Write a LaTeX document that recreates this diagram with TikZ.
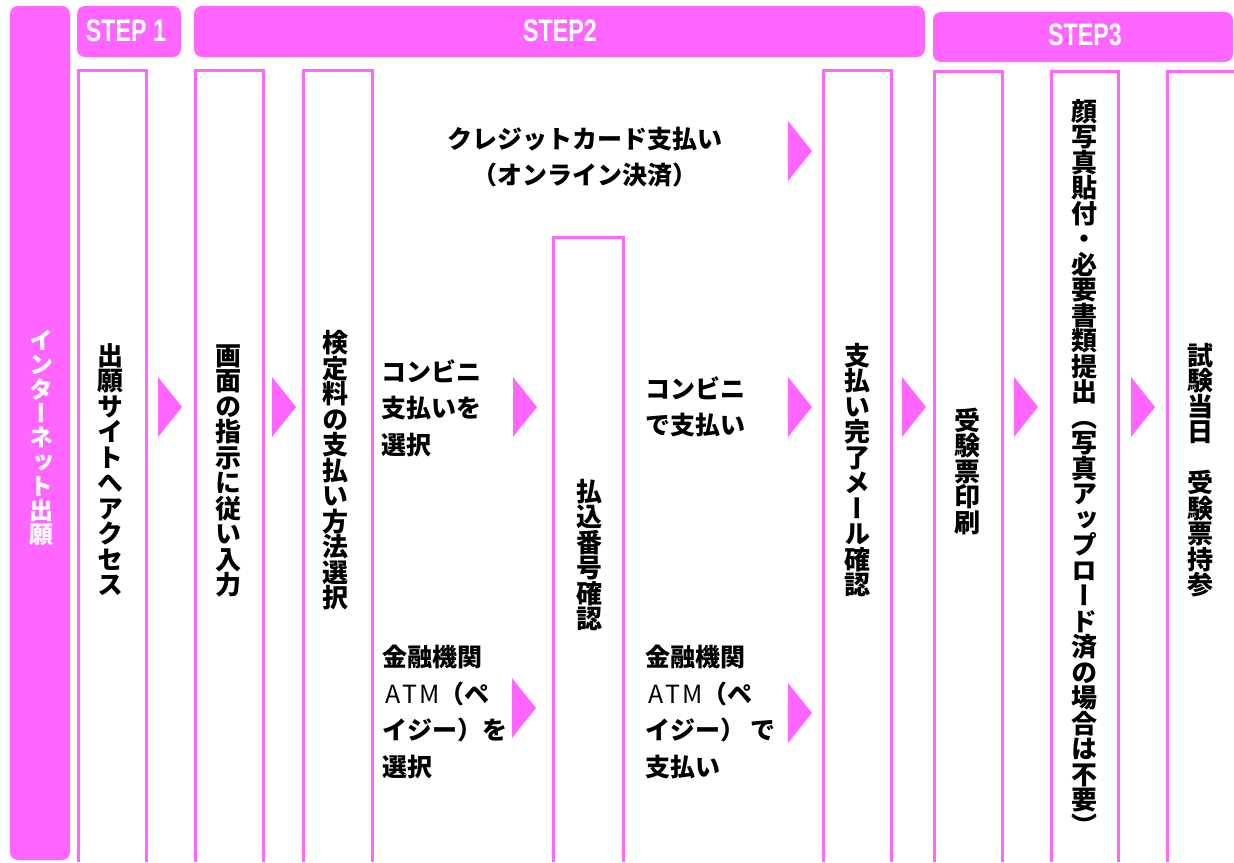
\documentclass[tikz,border=0pt]{standalone}
\usepackage{fontspec}
\usepackage{graphicx}
\newfontfamily\jp{Noto Sans CJK JP}
\newfontfamily\jpv{Noto Sans CJK JP}[RawFeature=+vert]
\newfontfamily\stepf{Liberation Sans}
\definecolor{pk}{RGB}{255,102,255}
\def\vtend{\vtend}
\def\vtaux#1{\ifx\vtend#1\else\hbox to 1em{\hss\smash{#1}\hss}\expandafter\vtaux\fi}
\newcommand\vt[2][25.5pt]{\vbox{\baselineskip=#1\lineskiplimit=-100pt\lineskip=0pt
  \hbox{\rule{0pt}{0.88em}}\kern-0.88em\relax\vtaux#2\vtend\kern0.12em}}
\newcommand\arr[2]{\fill[pk] (#1,#2-30) -- (#1+24,#2) -- (#1,#2+30) -- cycle;}
\newcommand\atm{\hspace{3pt}{\mdseries A\kern2pt T\kern2pt M}}
\tikzset{
  colbox/.style={draw=pk, line width=3pt},
  hdr/.style={fill=pk, rounded corners=8pt},
  vlabel/.style={inner sep=0pt, font=\jpv\bfseries\fontsize{26}{25.5}\selectfont},
  wlabel/.style={inner sep=0pt, text=white, font=\jpv\bfseries\fontsize{24}{24.3}\selectfont},
  hlabel/.style={inner sep=0pt, align=left, anchor=west, font=\jp\bfseries\fontsize{25}{36.5}\selectfont},
  steplabel/.style={inner sep=0pt, text=white, font=\stepf\bfseries\fontsize{31}{31}\selectfont}
}
\begin{document}
\begin{tikzpicture}[x=1pt,y=-1pt]
\useasboundingbox (0,0) rectangle (1234,862);
% left bar
\fill[pk, rounded corners=8pt] (10,6) rectangle (70,860);
\node[wlabel] (net) at (41,436) {\vt[24.3pt]{インターネット出願}};
% headers
\fill[hdr] (77,6) rectangle (181,57);
\fill[hdr] (194,6) rectangle (925,57);
\fill[hdr] (933,12) rectangle (1233,62);
\node[steplabel] (s1) at (126,31) {\scalebox{0.75}[1]{STEP 1}};
\node[steplabel] (s2) at (560,31) {\scalebox{0.75}[1]{STEP2}};
\node[steplabel] (s3) at (1085,35) {\scalebox{0.75}[1]{STEP3}};
% columns
\draw[colbox] (78,862) |- (146,70) -- (146,862);
\draw[colbox] (195,862) |- (263,70) -- (263,862);
\draw[colbox] (303,862) |- (372,70) -- (372,862);
\draw[colbox] (553,862) |- (623,237) -- (623,862);
\draw[colbox] (823,862) |- (891,70) -- (891,862);
\draw[colbox] (934,862) |- (1002,71) -- (1002,862);
\draw[colbox] (1051,862) |- (1118,71) -- (1118,862);
\draw[colbox] (1167,862) |- (1238,71);
% vertical labels
\node[vlabel] (v1) at (110,469) {\vt{出願サイトへアクセス}};
\node[vlabel] (v2) at (228,469) {\vt{画面の指示に従い入力}};
\node[vlabel] (v3) at (335,469) {\vt{検定料の支払い方法選択}};
\node[vlabel] (v4) at (589,554) {\vt{払込番号確認}};
\node[vlabel] (v5) at (857,469) {\vt{支払い完了メール確認}};
\node[vlabel] (v6) at (967,470) {\vt{受験票印刷}};
\node[vlabel] (v7) at (1084,467) {\vt{顔写真貼付・必要書類提出（写真アップロード済の場合は不要）}};
\node[vlabel] (v8) at (1200,469) {\vt{試験当日　受験票持参}};
% horizontal labels
\node[hlabel, align=center, anchor=center] (cc) at (585,157) {クレジットカード支払い\\（オンライン決済）};
\node[hlabel] (kb1) at (381,408) {コンビニ\\支払いを\\選択};
\node[hlabel] (atm1) at (382,712) {金融機関\\\atm（ペ\\イジー）を\\選択};
\node[hlabel] (kb2) at (645,407) {コンビニ\\で支払い};
\node[hlabel] (atm2) at (645,712) {金融機関\\\atm（ペ\\イジー） で\\支払い};
% arrows
\arr{158}{407}
\arr{272}{407}
\arr{513}{407}
\arr{788}{407}
\arr{788}{151}
\arr{512}{708}
\arr{788}{713}
\arr{902}{407}
\arr{1014}{407}
\arr{1131}{407}
\end{tikzpicture}
\end{document}
